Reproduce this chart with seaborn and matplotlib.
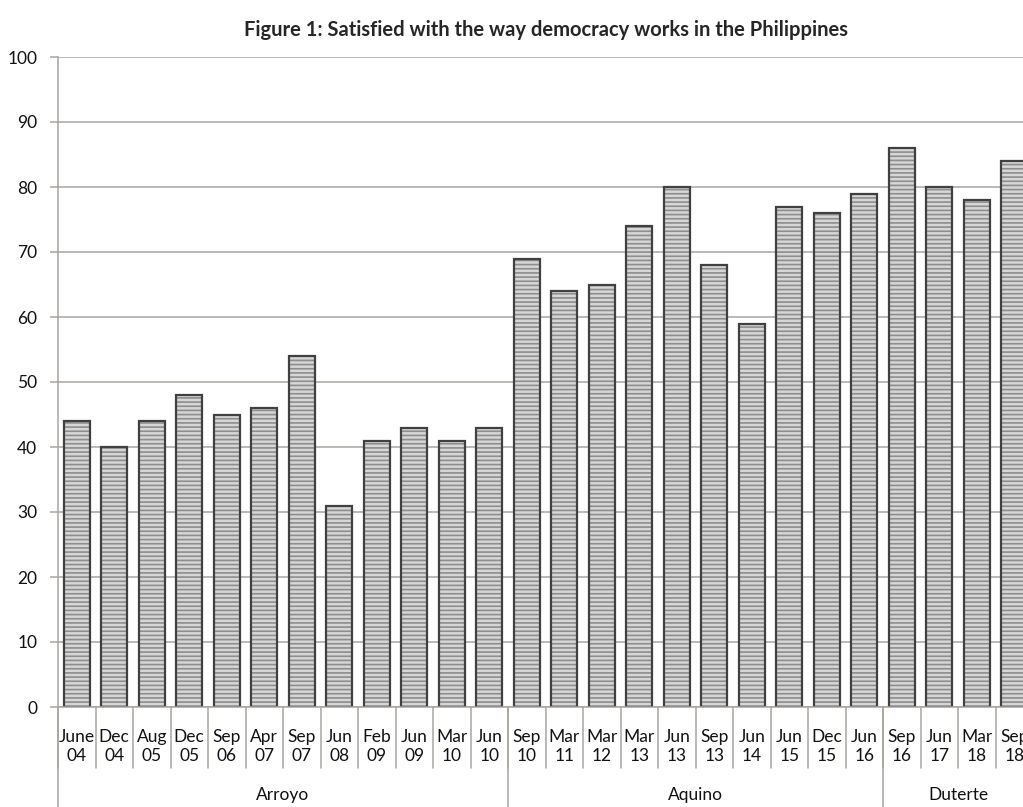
import pandas as pd
import seaborn as sns
import matplotlib.pyplot as plt
import matplotlib.transforms as mtransforms

sns.set_style("white")
plt.rcParams['font.family'] = ['Lato', 'DejaVu Sans']
plt.rcParams['hatch.linewidth'] = 1.2

# survey dates and share satisfied (%)
months = ["June", "Dec", "Aug", "Dec", "Sep", "Apr", "Sep", "Jun", "Feb", "Jun", "Mar", "Jun",
          "Sep", "Mar", "Mar", "Mar", "Jun", "Sep", "Jun", "Jun", "Dec", "Jun",
          "Sep", "Jun", "Mar", "Sep"]
years = ["04", "04", "05", "05", "06", "07", "07", "08", "09", "09", "10", "10",
         "10", "11", "12", "13", "13", "13", "14", "15", "15", "16",
         "16", "17", "18", "18"]
satisfied = [44, 40, 44, 48, 45, 46, 54, 31, 41, 43, 41, 43,
             69, 64, 65, 74, 80, 68, 59, 77, 76, 79,
             86, 80, 78, 84]
presidents = ["Arroyo", "Aquino", "Duterte"]
n_surveys = [12, 10, 4]

labels = [m + "\n" + y for m, y in zip(months, years)]
data = pd.DataFrame({"Survey": labels, "Satisfied": satisfied})

fig = plt.figure(figsize=(10.23, 8.07), dpi=100)
# axes run a little past the right edge, as in the original
ax = fig.add_axes([58 / 1023, 100 / 807, 975 / 1023, 650 / 807])

grid_col = "#aaa49e"
ax.yaxis.grid(True, color=grid_col, linewidth=1.1)
ax.set_axisbelow(True)

sns.barplot(data=data, x="Survey", y="Satisfied", ax=ax, color="#d6d6d6",
            width=0.7, edgecolor="#8e8e8e", linewidth=0, hatch="----")
sns.barplot(data=data, x="Survey", y="Satisfied", ax=ax, fill=False,
            width=0.7, edgecolor="#404040", linewidth=1.6)

ax.set_ylim(0, 100)
ax.set_yticks(range(0, 101, 10))
ax.set_xlim(-0.5, len(labels) - 0.5)
ax.set(xlabel="", ylabel="")

for side in ["top", "right"]:
    ax.spines[side].set_visible(False)
ax.spines["left"].set_color(grid_col)
ax.spines["bottom"].set_color(grid_col)
ax.spines["left"].set_linewidth(1.1)
ax.spines["bottom"].set_linewidth(1.1)

ax.tick_params(axis="y", left=True, length=6, width=1.1, color=grid_col,
               pad=9, labelsize=12.5, labelcolor="#111111")
ax.tick_params(axis="x", bottom=False, pad=12, labelsize=12.5, labelcolor="#111111")
for lab in ax.get_xticklabels():
    lab.set_linespacing(1.3)

trans = mtransforms.blended_transform_factory(ax.transData, ax.transAxes)
# short separators between survey labels
for i in range(len(labels) + 1):
    ax.plot([i - 0.5, i - 0.5], [0, -0.094], transform=trans, color=grid_col,
            linewidth=1.1, clip_on=False)

# long separators and president names
start = 0
for name, n in zip(presidents, n_surveys):
    ax.plot([start - 0.5, start - 0.5], [0, -0.16], transform=trans, color=grid_col,
            linewidth=1.1, clip_on=False)
    ax.text(start + n / 2 - 0.5, -0.135, name, transform=trans, ha="center",
            va="center", fontsize=12.5, color="#111111")
    start += n

ax.set_title("Figure 1: Satisfied with the way democracy works in the Philippines",
             fontsize=14.5, fontweight="bold", pad=15)

fig.savefig("out.png", dpi=100)
